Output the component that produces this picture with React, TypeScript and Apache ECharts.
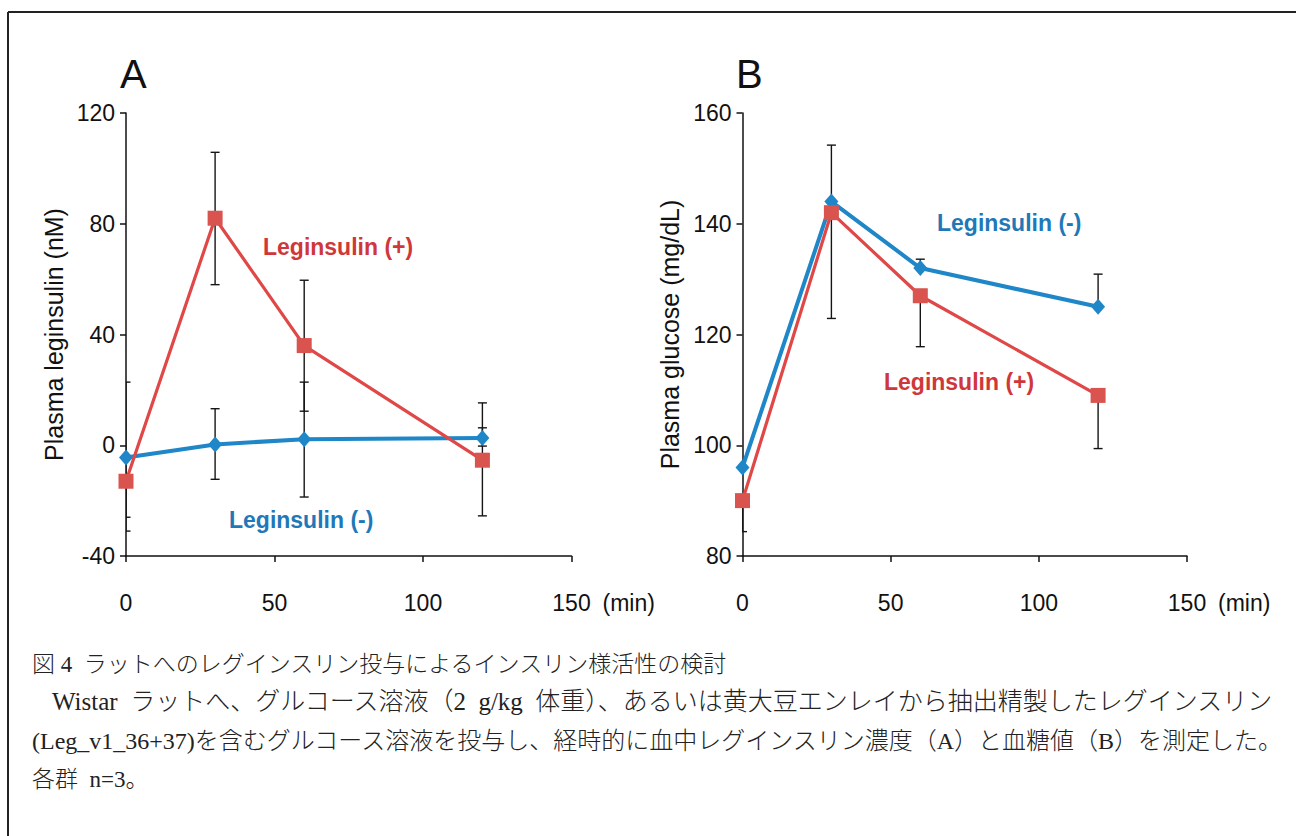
import React, { useEffect, useRef } from "react";
import * as echarts from "echarts";

// ---- Data ----
const times = [0, 30, 60, 120];
const xTickMax = 150;
const xTickStep = 50;

// Panel A: plasma leginsulin (nM)
const aYMin = -40;
const aYMax = 120;
const aYStep = 40;
const aPlus = [-13, 82, 36, -5.4];
const aPlusLow = [-31, 58, 12.3, -25.5];
const aPlusHigh = [-13, 105.8, 59.6, 6.3];
const aMinus = [-4.4, 0.3, 2.2, 2.6];
const aMinusLow = [-26, -12.3, -18.7, -0.3];
const aMinusHigh = [22.8, 13.2, 22.8, 15.3];

// Panel B: plasma glucose (mg/dL)
const bYMin = 80;
const bYMax = 160;
const bYStep = 20;
const bPlus = [90, 142, 127, 109];
const bPlusLow = [84.4, 122.9, 117.8, 99.4];
const bPlusHigh = [90, 142, 127, 109];
const bMinus = [96, 144, 132, 125];
const bMinusLow = [96, 144, 132, 125];
const bMinusHigh = [96, 154.2, 133.6, 130.9];

// Texts
const captionLines = [
  "図 4  ラットへのレグインスリン投与によるインスリン様活性の検討",
  "Wistar  ラットへ、グルコース溶液（2  g/kg  体重）、あるいは黄大豆エンレイから抽出精製したレグインスリン",
  "(Leg_v1_36+37)を含むグルコース溶液を投与し、経時的に血中レグインスリン濃度（A）と血糖値（B）を測定した。",
  "各群  n=3。",
];

const RED_LINE = "#e04747";
const RED_MARK = "#d9534f";
const RED_TEXT = "#d0373a";
const BLUE_LINE = "#1f87c8";
const BLUE_TEXT = "#1f78b8";
const SANS = "Arial, 'Liberation Sans', Helvetica, sans-serif";
const CAPTION_FONT = "'Liberation Serif', 'Noto Sans CJK JP', serif";

const pairs = (ys: number[]) => times.map((t, i) => [t, ys[i]]);
const errs = (lo: number[], hi: number[]) => times.map((t, i) => [t, lo[i], hi[i]]);

function renderErr(params: any, api: any) {
  const x = api.value(0);
  const lo = api.coord([x, api.value(1)]);
  const hi = api.coord([x, api.value(2)]);
  const w = 4.5;
  const style = { stroke: "#151515", lineWidth: 1.4, fill: "none" };
  return {
    type: "group",
    children: [
      { type: "line", shape: { x1: lo[0], y1: lo[1], x2: hi[0], y2: hi[1] }, style },
      { type: "line", shape: { x1: lo[0] - w, y1: lo[1], x2: lo[0] + w, y2: lo[1] }, style },
      { type: "line", shape: { x1: hi[0] - w, y1: hi[1], x2: hi[0] + w, y2: hi[1] }, style },
    ],
  };
}

export default function App() {
  const ref = useRef<HTMLDivElement>(null);

  useEffect(() => {
    if (!ref.current) return;
    const chart = echarts.init(ref.current, null, { renderer: "svg" });

    const axisLineStyle = { color: "#111", width: 1.5 };
    const xAxisBase = (gridIndex: number) => ({
      type: "value",
      gridIndex,
      min: 0,
      max: xTickMax,
      interval: xTickStep,
      name: "(min)",
      nameLocation: "end",
      nameGap: 31,
      nameTextStyle: {
        fontSize: 23,
        color: "#111",
        fontFamily: SANS,
        align: "left",
        verticalAlign: "top",
        padding: [35, 0, 0, 0],
      },
      axisLine: { show: true, onZero: false, lineStyle: axisLineStyle },
      axisTick: { show: true, inside: false, length: 6, lineStyle: axisLineStyle },
      axisLabel: { fontSize: 23, color: "#111", fontFamily: SANS, margin: 35 },
      splitLine: { show: false },
    });
    const yAxisBase = (gridIndex: number, min: number, max: number, step: number, name: string) => ({
      type: "value",
      gridIndex,
      min,
      max,
      interval: step,
      name,
      nameLocation: "middle",
      nameGap: 60,
      nameTextStyle: { fontSize: 25, color: "#111", fontFamily: SANS },
      axisLine: { show: true, lineStyle: axisLineStyle },
      axisTick: { show: true, inside: false, length: 6, lineStyle: axisLineStyle },
      axisLabel: { fontSize: 23, color: "#111", fontFamily: SANS, margin: 11 },
      splitLine: { show: false },
    });

    const lineSeries = (
      name: string,
      xi: number,
      ys: number[],
      color: string,
      mark: string,
      symbol: string,
      size: any,
      width: number,
      z: number
    ) => ({
      type: "line",
      name,
      xAxisIndex: xi,
      yAxisIndex: xi,
      data: pairs(ys),
      symbol,
      symbolSize: size,
      showAllSymbol: true,
      lineStyle: { color, width },
      itemStyle: { color: mark, borderColor: mark, borderWidth: 0, opacity: 1 },
      z,
      silent: true,
    });
    const errSeries = (xi: number, lo: number[], hi: number[]) => ({
      type: "custom",
      xAxisIndex: xi,
      yAxisIndex: xi,
      data: errs(lo, hi),
      renderItem: renderErr,
      clip: true,
      z: 1,
      silent: true,
    });

    const labelText = (text: string, x: number, y: number, color: string) => ({
      type: "text",
      x,
      y,
      style: {
        text,
        fill: color,
        font: `bold 23px ${SANS}`,
        textAlign: "left",
        textVerticalAlign: "middle",
      },
    });

    const graphics: any[] = [
      { type: "line", shape: { x1: 8, y1: 12, x2: 1296, y2: 12 }, style: { stroke: "#222", lineWidth: 2 } },
      { type: "line", shape: { x1: 8, y1: 12, x2: 8, y2: 836 }, style: { stroke: "#222", lineWidth: 2 } },
      {
        type: "text",
        x: 120,
        y: 74,
        style: { text: "A", fill: "#111", font: `40px ${SANS}`, textAlign: "left", textVerticalAlign: "middle" },
      },
      {
        type: "text",
        x: 736,
        y: 74,
        style: { text: "B", fill: "#111", font: `40px ${SANS}`, textAlign: "left", textVerticalAlign: "middle" },
      },
      labelText("Leginsulin (+)", 263, 247, RED_TEXT),
      labelText("Leginsulin (-)", 229, 520, BLUE_TEXT),
      labelText("Leginsulin (-)", 937, 223, BLUE_TEXT),
      labelText("Leginsulin (+)", 884, 382, RED_TEXT),
    ];
    const capY = [664, 701, 741, 779];
    const capX = [32, 52, 32, 32];
    const capSize = [23, 25, 24, 23];
    captionLines.forEach((t, i) => {
      graphics.push({
        type: "text",
        x: capX[i],
        y: capY[i],
        style: {
          text: t,
          fill: "#222",
          fontFamily: CAPTION_FONT,
          fontSize: capSize[i],
          fontWeight: 300,
          textAlign: "left",
          textVerticalAlign: "middle",
        },
      });
    });

    chart.setOption({
      animation: false,
      backgroundColor: "#ffffff",
      grid: [
        { left: 126, top: 113, width: 445.5, height: 443, containLabel: false },
        { left: 742.5, top: 113, width: 444.5, height: 443, containLabel: false },
      ],
      xAxis: [xAxisBase(0), xAxisBase(1)],
      yAxis: [
        yAxisBase(0, aYMin, aYMax, aYStep, "Plasma leginsulin (nM)"),
        yAxisBase(1, bYMin, bYMax, bYStep, "Plasma glucose (mg/dL)"),
      ],
      series: [
        errSeries(0, aMinusLow, aMinusHigh),
        errSeries(0, aPlusLow, aPlusHigh),
        lineSeries("Leginsulin (-)", 0, aMinus, BLUE_LINE, BLUE_LINE, "diamond", [14, 16], 4, 2),
        lineSeries("Leginsulin (+)", 0, aPlus, RED_LINE, RED_MARK, "rect", 15, 3.2, 3),
        errSeries(1, bMinusLow, bMinusHigh),
        errSeries(1, bPlusLow, bPlusHigh),
        lineSeries("Leginsulin (-)", 1, bMinus, BLUE_LINE, BLUE_LINE, "diamond", [14, 16], 4, 2),
        lineSeries("Leginsulin (+)", 1, bPlus, RED_LINE, RED_MARK, "rect", 15, 3.2, 3),
      ],
      graphic: graphics,
    });

    return () => chart.dispose();
  }, []);

  return (
    <div
      ref={ref}
      style={{ position: "absolute", left: 0, top: 0, width: 1296, height: 836, background: "#fff" }}
    />
  );
}
